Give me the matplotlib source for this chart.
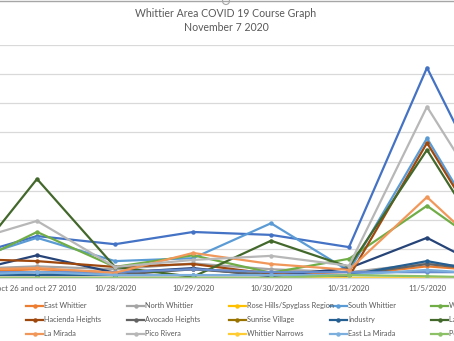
import matplotlib
matplotlib.use("Agg")
import matplotlib.pyplot as plt
from matplotlib.lines import Line2D
from matplotlib.patches import Circle

plt.rcParams['font.family'] = ['Lato', 'DejaVu Sans']

# Reporting dates (category axis)
dates = ["10/25/2020", "oct 26 and oct 27 2010", "10/28/2020",
         "10/29/2020", "10/30/2020", "10/31/2020", "11/5/2020", "11/6/2020"]

# New cases per community
whittier            = [3.3, 7.2, 5.8, 7.9, 7.4, 5.3, 36.1, 9.3]
east_whittier       = [1.0, 1.5, 1.0, 1.5, 1.0, 0.5, 2.0, 1.0]
north_whittier      = [1.5, 2.0, 1.5, 2.5, 1.5, 1.0, 2.5, 1.5]
rose_hills          = [0, 0, 0, 0, 0, 0, 0, 0]
south_whittier      = [2.6, 6.9, 2.9, 3.4, 9.4, 1.2, 24.0, 1.7]
west_whittier       = [1.4, 7.9, 1.9, 3.9, 0.9, 3.3, 12.4, 2.9]
montebello          = [0.7, 3.9, 0.9, 1.7, 0.3, 1.7, 6.9, 0.0]
hacienda_heights    = [3.3, 2.9, 1.9, 2.4, 0.7, 0.2, 23.2, 1.4]
avocado_heights     = [0.5, 1.0, 0.5, 1.5, 0.5, 0.5, 2.4, 1.0]
sunrise_village     = [0, 0, 0, 0, 0, 0, 0, 0]
industry            = [0.5, 0.5, 0.5, 0.5, 0.5, 0.5, 2.9, 0.5]
la_puente           = [0.2, 17.0, 1.9, 0.2, 6.4, 1.9, 22.0, 0.7]
norwalk             = [1.0, 1.0, 1.0, 1.5, 1.0, 1.0, 1.0, 1.0]
la_mirada           = [1.4, 1.7, 0.9, 4.3, 2.4, 1.4, 13.9, 1.5]
pico_rivera         = [5.8, 9.8, 1.9, 3.1, 3.8, 2.1, 29.4, 8.1]
whittier_narrows    = [0, 0, 0, 0, 0, 0, 0, 0]
east_la_mirada      = [0.5, 1.0, 0.5, 0.5, 0.5, 0.5, 1.4, 0.5]
pellissier_village  = [0, 0, 0, 0, 0, 0.5, 0.3, 0]

series = [
    ("Whittier", "#4472C4", whittier),
    ("East Whittier", "#ED7D31", east_whittier),
    ("North Whittier", "#A5A5A5", north_whittier),
    ("Rose Hills/Spyglass Region", "#FFC000", rose_hills),
    ("South Whittier", "#5B9BD5", south_whittier),
    ("West Whittier-Los Nietos", "#70AD47", west_whittier),
    ("Montebello", "#264478", montebello),
    ("Hacienda Heights", "#9E480E", hacienda_heights),
    ("Avocado Heights", "#636363", avocado_heights),
    ("Sunrise Village", "#997300", sunrise_village),
    ("Industry", "#255E91", industry),
    ("La Puente", "#43682B", la_puente),
    ("Norwalk", "#698ED0", norwalk),
    ("La Mirada", "#F1975A", la_mirada),
    ("Pico Rivera", "#B7B7B7", pico_rivera),
    ("Whittier Narrows", "#FFCD33", whittier_narrows),
    ("East La Mirada", "#7CAFDD", east_la_mirada),
    ("Pellissier Village", "#8CC168", pellissier_village),
]

W, H = 454, 341
fig = plt.figure(figsize=(W / 100, H / 100), dpi=100)
fig.patch.set_facecolor("white")

# Plot area in pixel terms (wider than the canvas, like a wide sheet chart)
px_left, px_right, px_top, px_bottom = -80, 544, 45, 278
ax = fig.add_axes([px_left / W, 1 - px_bottom / H,
                   (px_right - px_left) / W, (px_bottom - px_top) / H])

x = list(range(len(dates)))
for name, color, vals in series:
    ax.plot(x, vals, color=color, lw=1.6, marker="o", ms=3.2,
            markeredgewidth=0, label=name, solid_joinstyle="round")

ax.set_xlim(-0.5, len(dates) - 0.5)
ax.set_ylim(0, 40)
ax.set_yticks(range(0, 41, 5))
ax.set_yticklabels([])
ax.tick_params(axis="y", length=0)
ax.yaxis.grid(True, color="#D9D9D9", lw=0.9)
ax.set_axisbelow(True)
ax.set_xticks(x)
ax.set_xticklabels(dates, fontsize=5.5, color="#595959")
ax.tick_params(axis="x", length=0, pad=5.0)
for side in ("top", "left", "right"):
    ax.spines[side].set_visible(False)
ax.spines["bottom"].set_color("#D9D9D9")
ax.spines["bottom"].set_linewidth(0.9)

# Title
fig.text(226 / W, 1 - 13.5 / H, "Whittier Area COVID 19 Course Graph",
         ha="center", va="center", fontsize=7.6, color="#595959")
fig.text(226 / W, 1 - 27.7 / H, "November 7 2020",
         ha="center", va="center", fontsize=7.6, color="#595959")

# Legend: six equal-width columns, row-major order
col_w, row_h = 101.3, 14.2
lx0, ly0 = 26 - col_w, 305.5
for i, (name, color, _) in enumerate(series):
    r, c = divmod(i, 6)
    xl = lx0 + c * col_w
    yl = ly0 + r * row_h
    fig.add_artist(Line2D([xl / W, (xl + 17) / W], [1 - yl / H, 1 - yl / H],
                          color=color, lw=1.6, transform=fig.transFigure))
    fig.add_artist(Line2D([(xl + 8.5) / W], [1 - yl / H], color=color,
                          marker="o", ms=3.2, markeredgewidth=0,
                          transform=fig.transFigure))
    fig.text((xl + 18) / W, 1 - yl / H, name, ha="left", va="center",
             fontsize=5.3, color="#595959")

# Chart frame top edge with sizing handle
fig.add_artist(Line2D([0, 1], [1 - 0.5 / H, 1 - 0.5 / H], color="#A6A6A6",
                      lw=1.0, transform=fig.transFigure))
fig.add_artist(Circle((226, H - 1), 3.5, transform=None, facecolor="white",
                      edgecolor="#A6A6A6", lw=0.8))

fig.savefig("out.png", dpi=100, facecolor="white")
